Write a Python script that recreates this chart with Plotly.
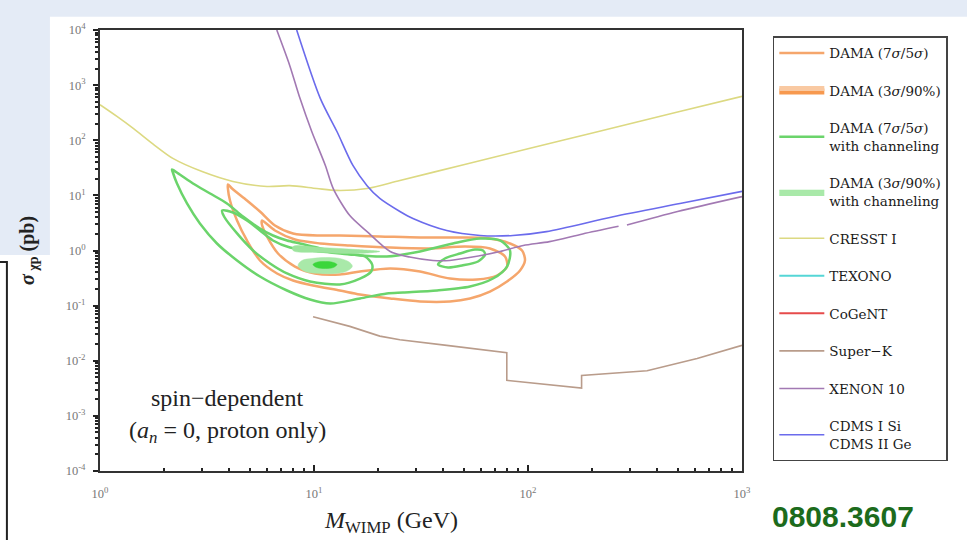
import plotly.graph_objects as go

# ---------------- data ----------------
mass_ticks = [1, 10, 100, 1000]
mass_tick_text = ["10<sup>0</sup>", "10<sup>1</sup>", "10<sup>2</sup>", "10<sup>3</sup>"]
sigma_ticks = [1e-4, 1e-3, 1e-2, 1e-1, 1, 10, 100, 1000, 1e4]
sigma_tick_text = ["10<sup>-4</sup>", "10<sup>-3</sup>", "10<sup>-2</sup>", "10<sup>-1</sup>",
                   "10<sup>0</sup>", "10<sup>1</sup>", "10<sup>2</sup>", "10<sup>3</sup>", "10<sup>4</sup>"]

cresst_x = [1, 1.2, 1.43, 1.8, 2.19, 3, 4.18, 6.03, 7.7, 10.3, 12.8, 17.7, 25.2, 50, 100, 200, 500, 1000]
cresst_y = [440, 270, 164, 81, 46.8, 27, 17.9, 14.5, 15, 13.3, 12.3, 13.3, 18.6, 36, 70, 135, 326, 625]

xenon_x = [6.7, 7.7, 8.6, 9.76, 11.3, 12.3, 14.7, 17.7, 22.7, 28, 36, 43, 55, 74, 95, 126, 180, 265, None, 290, 500, 1000]
xenon_y = [1e4, 2280, 575, 144, 34.9, 13.3, 4.3, 2.2, 0.96, 0.76, 0.66, 0.66, 0.76, 0.96, 1.23, 1.45, 2.0, 2.75, None, 2.9, 5.1, 9.5]

cdms_x = [8.3, 10.7, 12.8, 15.2, 17.7, 20.3, 25.2, 29, 41.7, 59.7, 85, 122, 250, 513, 1000]
cdms_y = [1e4, 575, 144, 34.9, 15, 8.8, 5.1, 3.8, 2.3, 1.87, 1.87, 2.2, 4.1, 7.1, 11.8]

superk_x = [9.9, 14.7, 20.3, 25.2, 41.7, 60, 79.6, 79.6, 122, 178, 178, 250, 360, 617, 1000]
superk_y = [0.063, 0.042, 0.028, 0.024, 0.019, 0.016, 0.014, 0.0044, 0.0037, 0.0032, 0.0054, 0.0059, 0.0066, 0.011, 0.019]

# DAMA without channeling: 7 sigma (outer) and 5 sigma (inner) contours
dama7_x = [3.96, 4.14, 4.86, 5.59, 6.57, 7.98, 10.7, 13.2, 20.3, 31.3, 48.1, 66.4, 82.4, 93.8, 96.8, 91.8,
           79.8, 66.4, 53.6, 43.2, 31.3, 22.7, 16.4, 13.2, 9.89, 7.98, 6.72, 5.59, 4.86, 4.37, 4.05, 3.96, 3.96]
dama7_y = [15.8, 13.3, 8.08, 5.10, 2.84, 2.04, 1.87, 1.87, 1.80, 1.72, 1.72, 1.65, 1.34, 1.0, 0.659, 0.434,
           0.274, 0.180, 0.135, 0.119, 0.119, 0.135, 0.159, 0.188, 0.232, 0.286, 0.383, 0.659, 1.52, 3.50, 8.08, 13.3, 15.8]
dama5_x = [5.71, 6.57, 8.15, 10.7, 14.7, 22.7, 34.8, 50.8, 66.4, 78.1, 79.8, 71.6, 57.8, 43.2, 31.3, 22.7,
           16.4, 13.2, 10.1, 8.15, 6.79, 6.03, 5.71, 5.71]
dama5_y = [3.50, 2.31, 1.58, 1.34, 1.23, 1.13, 1.09, 1.18, 1.09, 0.778, 0.512, 0.352, 0.298, 0.310, 0.416, 0.471,
           0.416, 0.367, 0.383, 0.512, 0.882, 1.80, 2.96, 3.50]

# DAMA with channeling: 7 sigma (outer) and 5 sigma (two islands)
damach7_x = [2.17, 2.36, 2.72, 3.27, 3.92, 4.66, 5.59, 6.43, 7.48, 8.60, 10.7, 15.2, 21.9, 31.3, 44.6, 59.7,
             74.0, 82.4, 79.8, 68.6, 53.6, 37.6, 26.1, 21.9, 16.4, 11.9, 9.58, 7.48, 5.59, 4.37, 3.52, 2.93,
             2.55, 2.29, 2.19, 2.17]
damach7_y = [29.5, 23.9, 16.4, 10.8, 7.13, 4.14, 2.51, 1.87, 1.52, 1.34, 1.09, 0.846, 0.778, 0.959, 1.34, 1.65,
             1.52, 1.0, 0.512, 0.310, 0.222, 0.188, 0.173, 0.166, 0.135, 0.109, 0.129, 0.188, 0.337, 0.659, 1.34, 3.09,
             7.13, 16.4, 26.0, 29.5]
damach5a_x = [3.72, 4.18, 4.86, 5.59, 6.43, 7.72, 9.58, 11.9, 14.7, 17.3, 18.7, 18.5, 16.4, 13.2, 9.58, 7.48,
              6.23, 5.19, 4.37, 3.80, 3.72]
damach5a_y = [5.32, 4.89, 3.50, 2.31, 1.52, 1.13, 1.0, 0.920, 0.846, 0.778, 0.557, 0.416, 0.310, 0.242, 0.274, 0.383,
              0.581, 1.0, 2.04, 4.14, 5.32]
damach5b_x = [38.0, 40.9, 48.1, 56.5, 61.6, 63.0, 58.4, 49.2, 42.3, 38.0]
damach5b_y = [0.557, 0.716, 0.882, 1.04, 1.0, 0.846, 0.632, 0.534, 0.491, 0.557]

# DAMA with channeling: 3 sigma (light) and 90% (dark) regions
damach3_x = [8.42, 8.79, 9.79, 11.3, 13.2, 14.7, 15.1, 14.1, 12.5, 10.7, 9.08, 8.42]
damach3_y = [0.534, 0.659, 0.716, 0.746, 0.716, 0.606, 0.512, 0.416, 0.383, 0.383, 0.416, 0.534]
damach3band_x = [7.98, 10.7, 15.9, 20.3, 15.9, 10.7, 7.98, 7.98]
damach3band_y = [1.18, 1.13, 1.04, 0.959, 0.882, 0.920, 1.0, 1.18]
damach90_x = [9.89, 10.4, 11.3, 12.1, 12.8, 12.3, 11.3, 10.3, 9.89]
damach90_y = [0.557, 0.618, 0.632, 0.618, 0.557, 0.491, 0.471, 0.491, 0.557]

# ---------------- styling ----------------
ORANGE = "#f5a66c"
GREEN = "#6bd46b"
SERIF = "Liberation Serif"

fig = go.Figure()

def add_line(x, y, name, color, width, group, show=True, shape="spline"):
    fig.add_trace(go.Scatter(
        x=x, y=y, mode="lines", name=name, legendgroup=group, showlegend=show,
        line=dict(color=color, width=width, shape=shape, smoothing=0.8),
        hoverinfo="skip"))

# legend entry 1: DAMA 7/5 sigma
add_line(dama7_x, dama7_y, "DAMA (7<i>σ</i>/5<i>σ</i>)", ORANGE, 2.5, "g1")
add_line(dama5_x, dama5_y, "DAMA (7σ/5σ) inner", ORANGE, 2.5, "g1", show=False)

# legend entry 2: DAMA 3 sigma / 90% (not visible in range)
fig.add_trace(go.Scatter(x=[None], y=[None], mode="lines", fill="toself", name="DAMA (3<i>σ</i>/90%)",
                         legendgroup="g2", fillcolor="#f7994f", line=dict(color="#f9c9a2", width=5),
                         hoverinfo="skip"))

# entry 3: DAMA with channeling lines
add_line(damach7_x, damach7_y, "DAMA (7<i>σ</i>/5<i>σ</i>)<br>with channeling", GREEN, 2.5, "g3")
add_line(damach5a_x, damach5a_y, "ch5a", GREEN, 2.5, "g3", show=False)
add_line(damach5b_x, damach5b_y, "ch5b", GREEN, 2.5, "g3", show=False)

# entry 4: filled regions with channeling
fig.add_trace(go.Scatter(x=damach3_x, y=damach3_y, mode="lines", fill="toself",
                         name="DAMA (3<i>σ</i>/90%)<br>with channeling", legendgroup="g4",
                         fillcolor="#a9e9a9", line=dict(color="#a9e9a9", width=0.5, shape="spline"),
                         hoverinfo="skip"))
fig.add_trace(go.Scatter(x=damach3band_x, y=damach3band_y, mode="lines", fill="toself", showlegend=False,
                         legendgroup="g4", fillcolor="#9de49d",
                         line=dict(color="#9de49d", width=0.5, shape="spline"), hoverinfo="skip"))
fig.add_trace(go.Scatter(x=damach90_x, y=damach90_y, mode="lines", fill="toself", showlegend=False,
                         legendgroup="g4", fillcolor="#3cd63c",
                         line=dict(color="#3cd63c", width=0.5, shape="spline"), hoverinfo="skip"))

add_line(cresst_x, cresst_y, "CRESST I", "#dcd982", 1.6, "g5")
add_line([None], [None], "TEXONO", "#55d6d6", 2, "g6")
add_line([None], [None], "CoGeNT", "#e64b4b", 2, "g7")
add_line(superk_x, superk_y, "Super−K", "#b99c8b", 1.6, "g8", shape="linear")
add_line(xenon_x, xenon_y, "XENON 10", "#a279b3", 1.6, "g9")
add_line(cdms_x, cdms_y, "CDMS I Si<br>CDMS II Ge", "#6b6bec", 1.6, "g10")

axis_common = dict(showline=True, linecolor="#333", linewidth=2, mirror=True, showgrid=False,
                   zeroline=False, tickcolor="#222", tickwidth=1.5,
                   tickfont=dict(family=SERIF, size=12.5, color="#777"))

fig.update_xaxes(type="log", range=[0, 3], tickmode="array", tickvals=mass_ticks, ticktext=mass_tick_text,
                 ticks="inside", ticklen=6, ticklabelstandoff=10,
                 minor=dict(ticks="inside", ticklen=3, tickcolor="#222", dtick="D1", showgrid=False),
                 **axis_common)
fig.update_yaxes(type="log", range=[-4, 4], tickmode="array", tickvals=sigma_ticks, ticktext=sigma_tick_text,
                 ticks="outside", ticklen=5, ticklabelstandoff=5,
                 minor=dict(ticks="outside", ticklen=3, tickcolor="#222", dtick="D1", showgrid=False),
                 title=dict(text="<b><i>σ</i><sub> χp</sub> (pb)</b>", font=dict(family=SERIF, size=20, color="#222"),
                            standoff=26),
                 **axis_common)

fig.add_annotation(xref="paper", yref="paper", x=0.453, y=-0.115, xanchor="center", yanchor="middle",
                   showarrow=False, text="<i>M</i><sub>WIMP</sub> (GeV)",
                   font=dict(family=SERIF, size=24, color="#222"))
fig.add_annotation(xref="paper", yref="paper", x=0.199, y=0.166, xanchor="center", yanchor="middle",
                   showarrow=False, text="spin−dependent", font=dict(family=SERIF, size=24, color="#222"))
fig.add_annotation(xref="paper", yref="paper", x=0.199, y=0.088, xanchor="center", yanchor="middle",
                   showarrow=False, text="(<i>a<sub>n</sub></i> = 0, proton only)",
                   font=dict(family=SERIF, size=24, color="#222"))
fig.add_annotation(xref="paper", yref="paper", x=1.044, y=-0.104, xanchor="left", yanchor="middle",
                   showarrow=False, text="<b>0808.3607</b>",
                   font=dict(family="Liberation Sans", size=30, color="#1c6b1c"))

# slide background pieces
fig.add_shape(type="rect", xref="paper", yref="paper", x0=-0.156, x1=-0.078, y0=0.49, y1=1.07,
              fillcolor="#e4ebf6", line=dict(width=0), layer="below")
fig.add_shape(type="rect", xref="paper", yref="paper", x0=-0.156, x1=1.351, y0=1.03, y1=1.07,
              fillcolor="#e4ebf6", line=dict(width=0), layer="below")
fig.add_shape(type="path", xref="paper", yref="paper", path="M -0.16 0.474 L -0.145 0.474 L -0.145 -0.16",
              line=dict(color="#222", width=2))

fig.update_layout(
    width=967, height=540,
    margin=dict(l=100, r=225, t=30, b=69, autoexpand=False),
    paper_bgcolor="white", plot_bgcolor="white",
    showlegend=True,
    legend=dict(x=1.048, y=0.986, xanchor="left", yanchor="top", traceorder="grouped",
                tracegroupgap=17, itemwidth=45, bgcolor="white", bordercolor="#444", borderwidth=1.5,
                font=dict(family="DejaVu Serif", size=13.5, color="#1a1a1a")),
)

fig.write_html("out.html")
